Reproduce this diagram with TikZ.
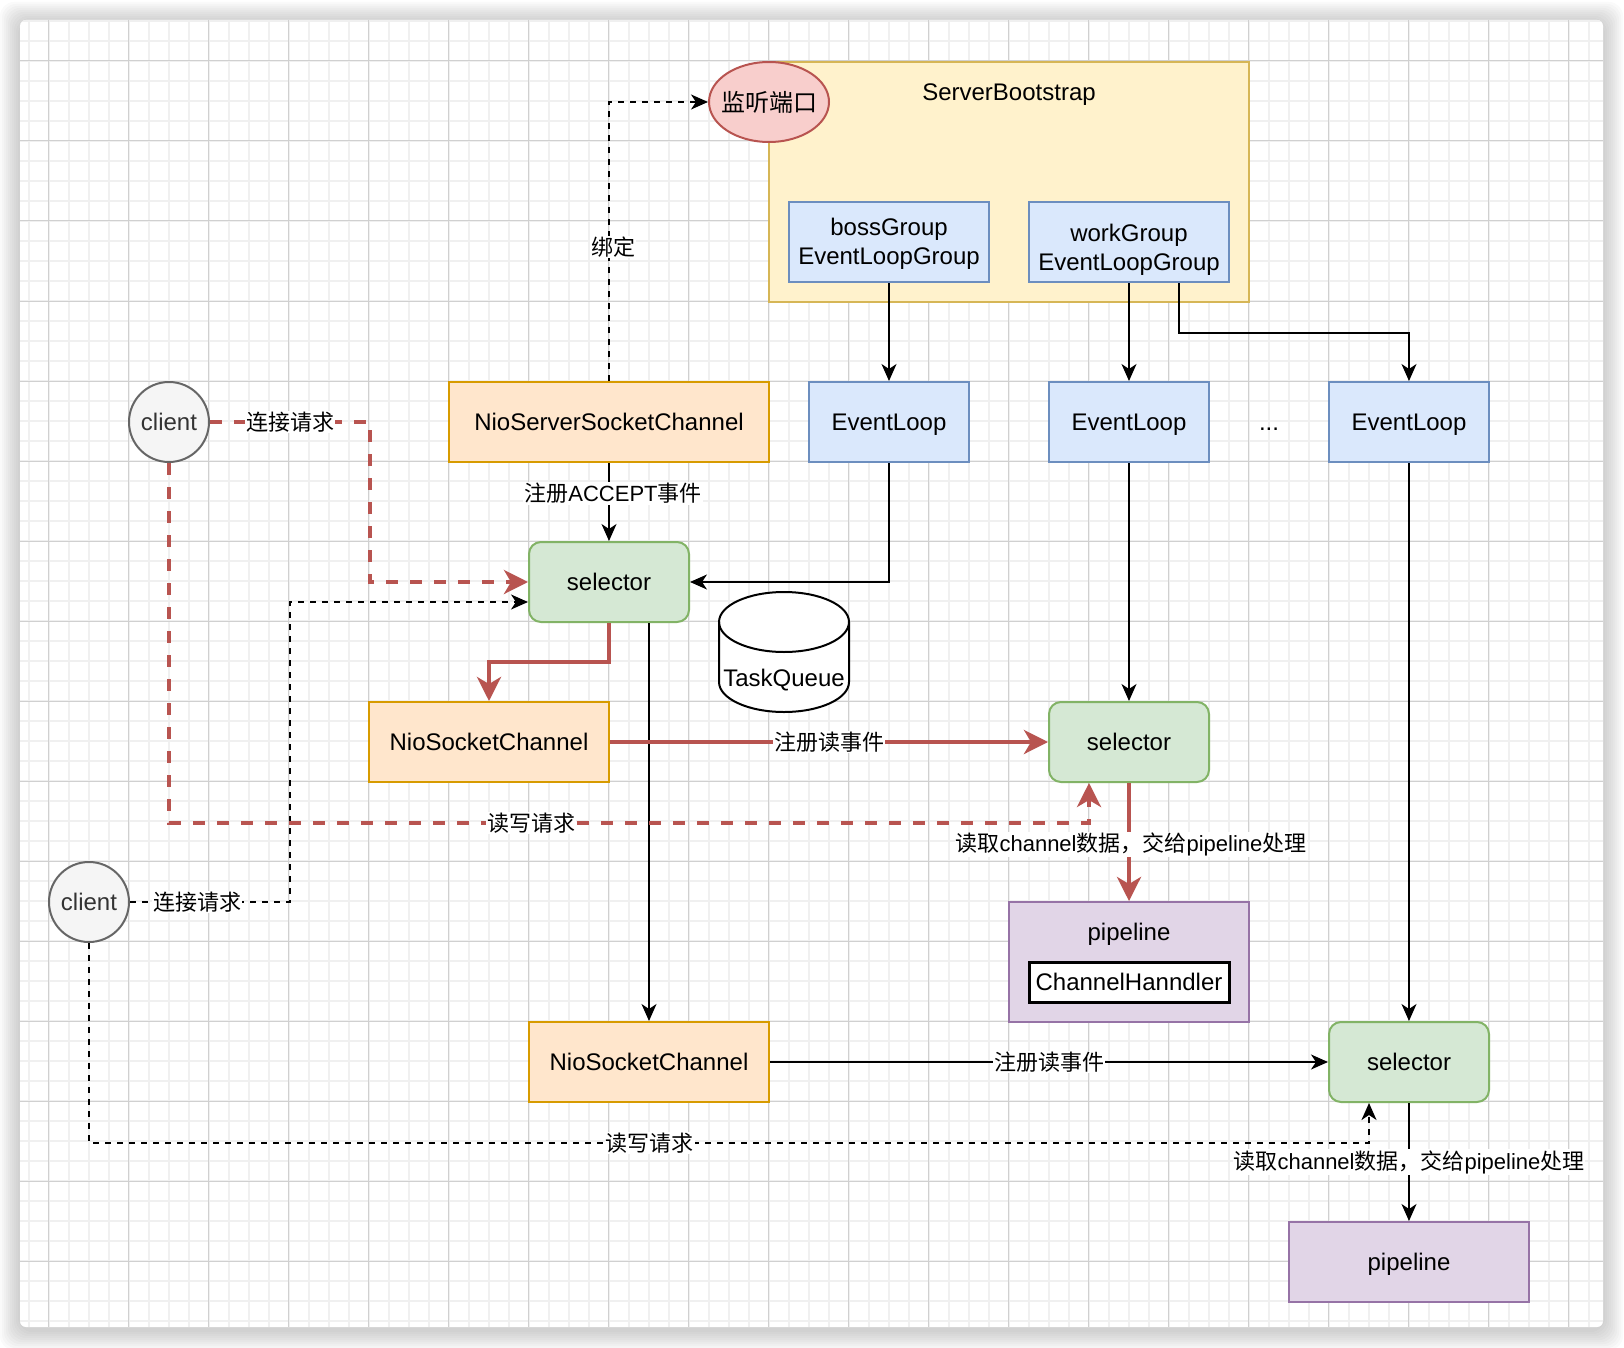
\documentclass[tikz,border=0pt]{standalone}
\usepackage{fontspec}
\setmainfont{Liberation Sans}
\newfontfamily\cjk{Noto Sans CJK SC}
\newcommand{\zh}[1]{{\cjk #1}}
\usepackage{tikz}
\usetikzlibrary{arrows.meta, shapes.geometric, positioning}
\definecolor{bootFill}{HTML}{FFF2CC}
\definecolor{bootLine}{HTML}{D6B656}
\definecolor{listenFill}{HTML}{F8CECC}
\definecolor{redLine}{HTML}{B85450}
\definecolor{blueFill}{HTML}{DAE8FC}
\definecolor{blueLine}{HTML}{6C8EBF}
\definecolor{orangeFill}{HTML}{FFE6CC}
\definecolor{orangeLine}{HTML}{D79B00}
\definecolor{greenFill}{HTML}{D5E8D4}
\definecolor{greenLine}{HTML}{82B366}
\definecolor{purpleFill}{HTML}{E1D5E7}
\definecolor{purpleLine}{HTML}{9673A6}
\definecolor{clientFill}{HTML}{F5F5F5}
\definecolor{clientLine}{HTML}{666666}
\definecolor{clientText}{HTML}{333333}
\definecolor{gridMinor}{HTML}{F0F0F0}
\definecolor{gridMajor}{HTML}{D0D0D0}

\begin{document}
\begin{tikzpicture}[x=1pt, y=-1pt,
  every node/.style={font=\fontsize{24}{29}\selectfont},
  oneline/.style={text height=21.7pt, text depth=5.1pt},
  box/.style={draw, line width=2pt, inner sep=0pt, minimum width=160pt,
    minimum height=80pt, oneline},
  bluebox/.style={box, fill=blueFill, draw=blueLine},
  orangebox/.style={box, fill=orangeFill, draw=orangeLine},
  greenbox/.style={box, fill=greenFill, draw=greenLine, rounded corners=12pt},
  purplebox/.style={box, fill=purpleFill, draw=purpleLine, minimum width=240pt},
  clientnode/.style={circle, draw=clientLine, fill=clientFill, line width=2pt,
    inner sep=0pt, minimum size=80pt, text=clientText, oneline},
  lbl/.style={fill=white, inner sep=1pt, font=\fontsize{22}{26}\selectfont},
  arr/.style={line width=2pt, -{Stealth[length=17pt, width=15pt, inset=5pt]}},
  dasharr/.style={arr, dash pattern=on 6pt off 6pt},
  redarr/.style={line width=4pt, draw=redLine,
    -{Stealth[length=24pt, width=24pt, inset=7pt]}},
  reddash/.style={redarr, dash pattern=on 12pt off 12pt},
]
\useasboundingbox (0,0) rectangle (1624,1348);

% Card with shadow
\foreach \s in {2,4,...,20}
  \fill[black, opacity=0.018, rounded corners=14pt]
    ({20-\s},{22-\s}) rectangle ({1603+\s},{1330+\s});
\fill[white, rounded corners=6pt] (20,20) rectangle (1603,1327);

% Grid
\begin{scope}
\clip[rounded corners=6pt] (20,20) rectangle (1603,1327);
\foreach \x in {28.7,48.7,...,1603} \draw[gridMinor, line width=1.6pt] (\x,20) -- (\x,1327);
\foreach \y in {21,41,...,1327} \draw[gridMinor, line width=1.6pt] (20,\y) -- (1603,\y);
\foreach \x in {48.7,128.7,...,1603} \draw[gridMajor, line width=1pt] (\x,20) -- (\x,1327);
\foreach \y in {61,141,...,1327} \draw[gridMajor, line width=1pt] (20,\y) -- (1603,\y);
\end{scope}

% ServerBootstrap
\node[box, fill=bootFill, draw=bootLine, minimum width=480pt, minimum height=240pt] (boot) at (1009,182) {};
\node[oneline] (bootlbl) at (1009,92) {ServerBootstrap};
\node[ellipse, draw=redLine, fill=listenFill, line width=2pt, inner sep=0pt,
  minimum width=120pt, minimum height=80pt] (listen) at (769,102) {\makebox[0pt]{\zh{监听端口}}};
\node[bluebox, minimum width=200pt] (boss) at (889,242) {};
\node[align=center] (bosstxt) at (889,244) {bossGroup\\EventLoopGroup};
\node[bluebox, minimum width=200pt] (work) at (1129,242) {};
\node[align=center] (worktxt) at (1129,250) {workGroup\\EventLoopGroup};

% EventLoops
\node[bluebox] (el1) at (889,422) {EventLoop};
\node[bluebox] (el2) at (1129,422) {EventLoop};
\node[oneline] (dots) at (1269,422) {...};
\node[bluebox] (el3) at (1409,422) {EventLoop};

% Channels and selectors
\node[orangebox, minimum width=320pt] (nssc) at (609,422) {NioServerSocketChannel};
\node[clientnode] (client1) at (169,422) {client};
\node[greenbox] (sel1) at (609,582) {selector};
\node[orangebox, minimum width=240pt] (nsc1) at (489,742) {NioSocketChannel};
\node[greenbox] (sel2) at (1129,742) {selector};
\node[purplebox, minimum height=120pt] (pipe1) at (1129,962) {};
\node[oneline] (pipe1lbl) at (1129,932) {pipeline};
\node[draw, fill=white, line width=3pt, inner sep=0pt, minimum width=200pt,
  minimum height=40pt, oneline] (handler) at (1129,982) {ChannelHanndler};
\node[clientnode] (client2) at (89,902) {client};
\node[orangebox, minimum width=240pt] (nsc2) at (649,1062) {NioSocketChannel};
\node[greenbox] (sel3) at (1409,1062) {selector};
\node[purplebox] (pipe2) at (1409,1262) {pipeline};

% TaskQueue
\draw[line width=2pt, fill=white] (719,622) -- (719,682)
  arc[start angle=180, end angle=360, x radius=65pt, y radius=30pt] -- (849,622)
  arc[start angle=0, end angle=180, x radius=65pt, y radius=30pt] -- cycle;
\draw[line width=2pt] (719,622) arc[start angle=180, end angle=360, x radius=65pt, y radius=30pt];
\node[oneline] (taskq) at (784,678) {TaskQueue};

% Black connectors
\draw[dasharr] (nssc.north) |- node[lbl, pos=0.24, xshift=4pt] {\zh{绑定}} (listen.west);
\draw[arr] (boss.south) -- (el1.north);
\draw[arr] (work.south) -- (el2.north);
\draw[arr] ([xshift=50pt]work.south) -- ++(0,50) -| (el3.north);
\draw[arr] (nssc.south) -- node[lbl, pos=0.39, xshift=4pt] {\zh{注册}ACCEPT\zh{事件}} (sel1.north);
\draw[arr] (el1.south) |- (sel1.east);
\draw[dasharr] (client2.east) -- node[lbl, pos=0.42] {\zh{连接请求}} ++(160,0)
  |- ([yshift=-20pt]sel1.west);
\draw[arr] ([xshift=40pt]sel1.south) -- (nsc2.north);
\draw[arr] (el2.south) -- (sel2.north);
\draw[arr] (el3.south) -- (sel3.north);
\draw[arr] (nsc2.east) -- node[lbl] {\zh{注册读事件}} (sel3.west);
\draw[dasharr] (client2.south) -- ++(0,200)
  -| node[lbl, pos=0.219] {\zh{读写请求}} ([xshift=-40pt]sel3.south);
\draw[arr] (sel3.south) -- node[lbl] {\zh{读取}channel\zh{数据，交给}pipeline\zh{处理}} (pipe2.north);

% Red connectors
\draw[reddash] (client1.east) -- node[lbl] {\zh{连接请求}} ++(160,0) |- (sel1.west);
\draw[redarr] (sel1.south) -- ++(0,39) -| (nsc1.north);
\draw[redarr] (nsc1.east) -- node[lbl] {\zh{注册读事件}} (sel2.west);
\draw[reddash] (client1.south) -- ++(0,360)
  -| node[lbl, pos=0.197] {\zh{读写请求}} ([xshift=-40pt]sel2.south);
\draw[redarr] (sel2.south) -- node[lbl, pos=0.52, xshift=2pt] {\zh{读取}channel\zh{数据，交给}pipeline\zh{处理}} (pipe1.north);
\end{tikzpicture}
\end{document}
